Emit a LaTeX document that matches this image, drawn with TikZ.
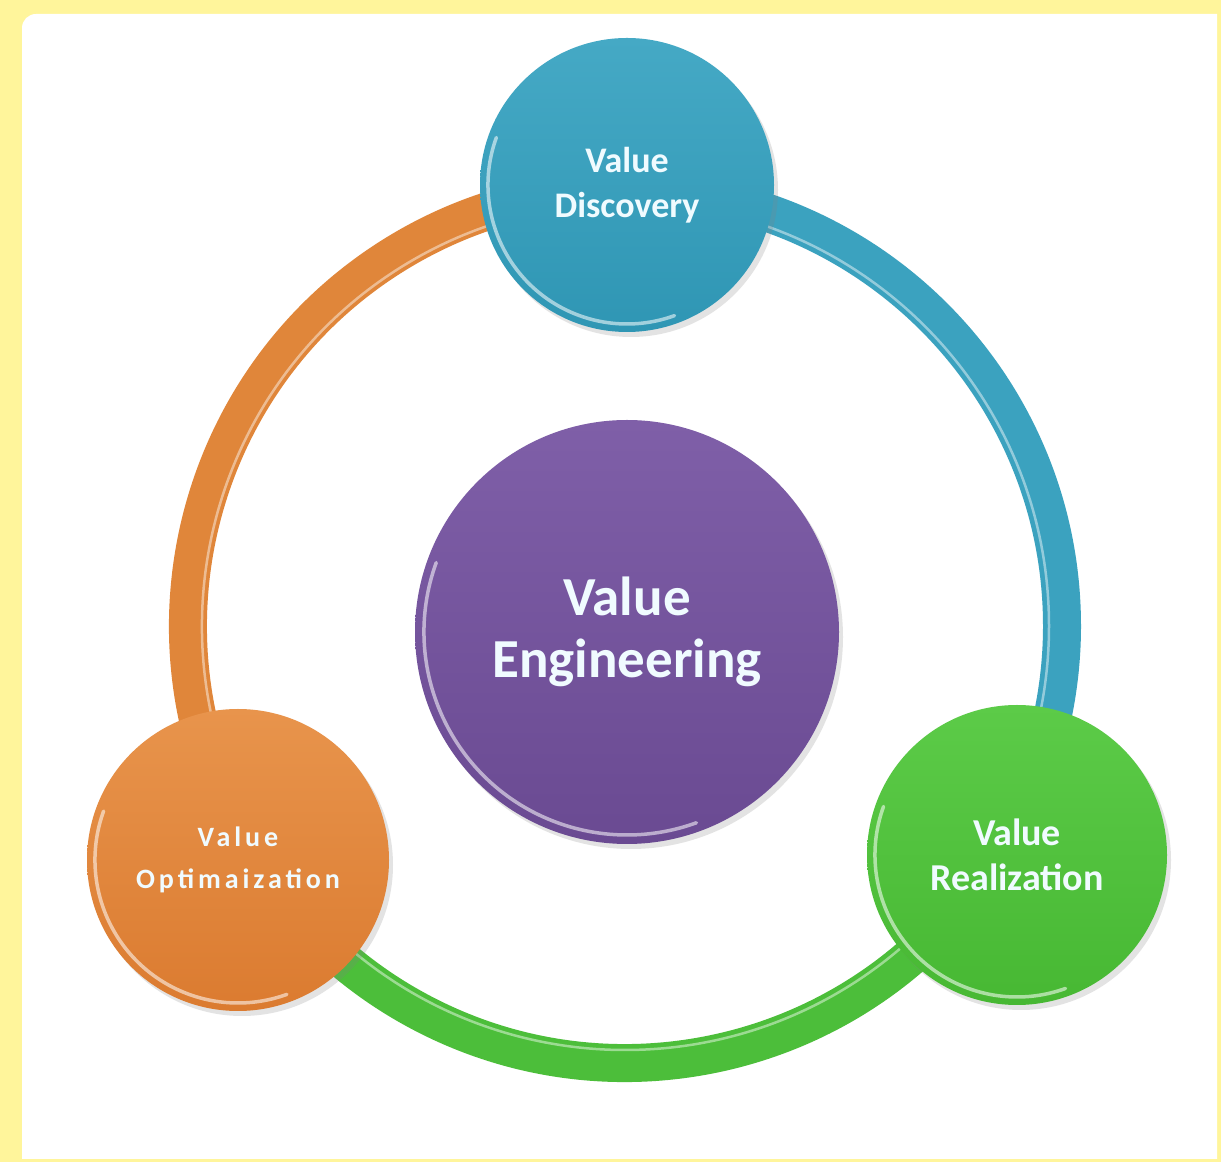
\documentclass[tikz,border=0pt]{standalone}
\usepackage{fontspec}
\setmainfont{Carlito}
\usetikzlibrary{shadows}
\definecolor{frameyellow}{HTML}{FFF59B}
\definecolor{discblue}{HTML}{2F96B4}
\definecolor{discbluelt}{HTML}{45A9C5}
\definecolor{engpurple}{HTML}{6A4A92}
\definecolor{engpurplelt}{HTML}{7F5FA8}
\definecolor{optorange}{HTML}{DB7B30}
\definecolor{optorangelt}{HTML}{E8944C}
\definecolor{realgreen}{HTML}{47B833}
\definecolor{realgreenlt}{HTML}{5CCB48}
\definecolor{ringblue}{HTML}{3BA2BF}
\definecolor{ringgreen}{HTML}{4CBE3A}
\definecolor{ringorange}{HTML}{E0863A}
\definecolor{txtlight}{HTML}{F0FBFF}
\tikzset{
  ball/.style={circle, inner sep=0pt, text=txtlight, align=center,
    font=\bfseries,
    drop shadow={opacity=0.22, shadow xshift=4pt, shadow yshift=-5pt}},
  ringarc/.style={line width=38pt, line cap=butt},
  ringshine/.style={white, opacity=0.45, line width=2.5pt},
  rim/.style={white, opacity=0.55, line width=3.5pt, line cap=round}
}
\begin{document}
\begin{tikzpicture}[x=1pt,y=1pt]
% frame
\fill[frameyellow] (0,0) rectangle (1221,1162);
\fill[white] (22,3) -- (1217,3) -- (1217,1148) [rounded corners=14pt] -- (22,1148) [sharp corners] -- cycle;
\useasboundingbox (0,0) rectangle (1221,1162);
% ring
\coordinate (ringc) at (625,536);
\draw[ringarc, ringblue] (ringc) ++(90:437) arc[start angle=90, end angle=-30, radius=437];
\draw[ringarc, ringgreen] (ringc) ++(-30:437) arc[start angle=-30, end angle=-150, radius=437];
\draw[ringarc, ringorange] (ringc) ++(210:437) arc[start angle=210, end angle=90, radius=437];
\draw[ringshine] (ringc) ++(90:424) arc[start angle=90, end angle=-150, radius=424];
\draw[ringshine] (ringc) ++(210:423) arc[start angle=210, end angle=90, radius=423];
% balls
\node[ball, minimum size=294pt, top color=discbluelt, bottom color=discblue,
  font=\bfseries\fontsize{36}{45}\selectfont] (disc) at (627,977) {Value\\Discovery};
\node[ball, minimum size=424pt, top color=engpurplelt, bottom color=engpurple,
  font=\bfseries\fontsize{55}{62}\selectfont] (eng) at (627,530) {Value\\Engineering};
\node[ball, minimum size=302pt, top color=optorangelt, bottom color=optorange,
  font=\bfseries\fontsize{28}{42}\selectfont\addfontfeatures{LetterSpace=14}] (opt) at (238,302) {Value\\Optimaization};
\node[ball, minimum size=300pt, top color=realgreenlt, bottom color=realgreen,
  font=\bfseries\fontsize{38}{45}\selectfont] (real) at (1017,307) {Value\\Realization};
% glossy rims
\draw[rim] (disc.center) ++(160:139) arc[start angle=160, end angle=290, radius=139];
\draw[rim] (eng.center) ++(160:203) arc[start angle=160, end angle=290, radius=203];
\draw[rim] (opt.center) ++(160:143) arc[start angle=160, end angle=290, radius=143];
\draw[rim] (real.center) ++(160:142) arc[start angle=160, end angle=290, radius=142];
\end{tikzpicture}
\end{document}
